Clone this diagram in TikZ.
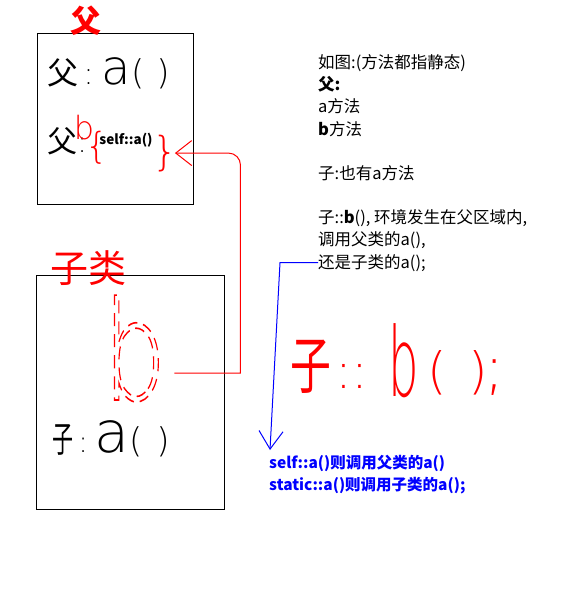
\documentclass[tikz,border=0pt]{standalone}
\usepackage{fontspec}
\usepackage{graphicx}
\setmainfont{Noto Sans CJK SC}
\newfontfamily\thinfont{DejaVuSans-ExtraLight.ttf}
\usetikzlibrary{arrows.meta,calc,positioning}
\newcommand\dashglyph[1]{\special{pdf:code q 1 Tr [13 8] 0 d 1.6 w}#1\special{pdf:code Q}}
\tikzset{box/.style={draw,line width=1pt,inner sep=0pt},
  hand/.style={inner sep=0pt,anchor=base},
  redhand/.style={hand,text=red},
  note/.style={inner sep=0pt,anchor=base west,font=\fontsize{16.5}{22}\selectfont},
  redline/.style={draw=red,line width=1pt},
  blueline/.style={draw=blue,line width=1pt}}

\begin{document}
\begin{tikzpicture}[x=1pt,y=-1pt]
\useasboundingbox (0,0) rectangle (572,608);
% parent class
\node[box,minimum width=156pt,minimum height=171pt] (parent) at (115,118.5) {};
\node[redhand,font=\fontsize{31}{31}\selectfont\bfseries] (ptitle) at (86,32) {父};
\node[hand,anchor=base west,font=\fontsize{31}{31}\selectfont] (pdef) at (47,84)
  {父{\thinfont\,:\hspace{8pt}\fontsize{48}{48}\selectfont a\fontsize{34}{34}\selectfont(\hspace{12pt})}};
\node[hand,anchor=base west,font=\fontsize{30}{30}\selectfont] (pcall) at (47,152) {父{\thinfont:}};
\node[redhand,font=\thinfont\fontsize{32}{32}\selectfont] (pb) at (84,139) {b};
\node[redhand,font=\thinfont\fontsize{36}{36}\selectfont] (popen) at (97,158) {\{};
\node[hand,font=\fontsize{13.5}{13.5}\selectfont\bfseries] (pself) at (126,144) {self::a()};
\node[redhand,font=\thinfont\fontsize{40}{40}\selectfont] (pclose) at (165,165) {\}};
% child class
\node[box,minimum width=188pt,minimum height=234pt] (child) at (130,392) {};
\node[redhand,font=\fontsize{38}{38}\selectfont] (ctitle) at (88,282) {子类};
\node[redhand,anchor=base west] (childb) at (103,400)
  {\scalebox{0.72}[1]{\thinfont\fontsize{138}{138}\selectfont\dashglyph{b}}};
\node[hand,anchor=base west] (cdef) at (52,452)
  {\scalebox{0.7}[1.2]{\fontsize{30}{30}\selectfont 子}{\thinfont\fontsize{30}{30}\selectfont\,:\hspace{6pt}\fontsize{57}{57}\selectfont a\fontsize{34}{34}\selectfont(\hspace{14pt})}};
\coordinate (bexit) at ($(childb.base east)+(8,-27)$);
\draw[redline,-{Straight Barb[length=16pt,width=25pt]}] (bexit) -- ++(66,0)
  [rounded corners=12pt] |- ([xshift=-3pt]pclose.east);
% notes
\foreach \n/\t/\y in {q1/{如图:(方法都指静态)}/68,q2/{\textbf{父:}}/90,q3/{a方法}/112,
  q4/{\textbf{b}方法}/135,q5/{子:也有a方法}/179,q6/{子::\textbf{b}(), 环境发生在父区域内,}/223,
  q7/{调用父类的a(),}/245,qchild/{还是子类的a();}/268}
  \node[note] (\n) at (318,\y) {\t};
\node[redhand,anchor=base west] (ccall) at (290,388)
  {\scalebox{0.85}[1.3]{\fontsize{48}{48}\selectfont 子}\hspace{4pt}{\thinfont\fontsize{50}{50}\selectfont ::\hspace{20pt}\raisebox{-8pt}{\scalebox{0.5}[1]{\fontsize{96}{96}\selectfont b}}\hspace{8pt}(\hspace{22pt})\hspace{-4pt}\fontsize{60}{60}\selectfont;}};
\node[inner sep=0pt,anchor=north west,align=left,text=blue,font=\fontsize{15.5}{22}\selectfont\bfseries] (answer) at (269,455)
  {self::a()则调用父类的a()\\static::a()则调用子类的a();};
\draw[blueline,-{Straight Barb[length=18pt,width=24pt]}] (qchild.west) -- ++(-38,0) -- ([yshift=5pt,xshift=1pt]answer.north west);
\end{tikzpicture}
\end{document}
